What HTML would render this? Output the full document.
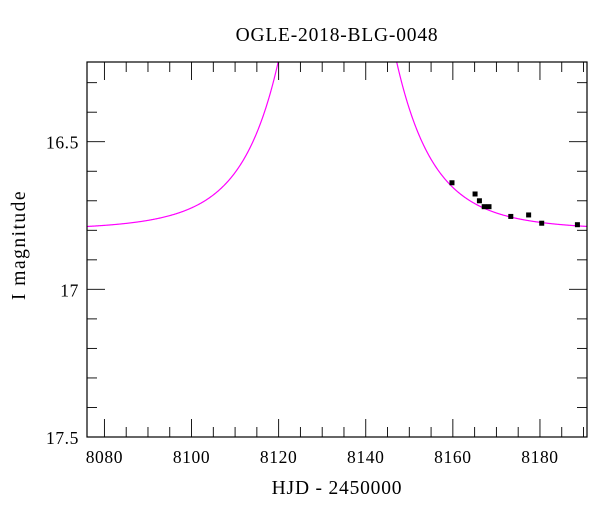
<!DOCTYPE html>
<html><head><meta charset="utf-8"><style>
body{margin:0;background:#fff}
svg text{font-family:"Liberation Serif",serif;fill:#000}
</style></head><body>
<svg id="chart" width="600" height="512"></svg>
<script>
const obsTimes=[8159.8,8165.1,8166.1,8167.2,8168.3,8173.3,8177.4,8180.4,8188.6];
const obsMags=[16.639,16.677,16.700,16.720,16.720,16.753,16.748,16.776,16.781];
const obsErrs=[0.005,0.005,0.005,0.005,0.005,0.005,0.005,0.005,0.005];
const modelParams=[8133.5,0.05,15,16.80,1.66]; // t0,u0,tE,I0,fs
const xTicks=[8080,8100,8120,8140,8160,8180];
const yTicks=[16.5,17,17.5];
const NS='http://www.w3.org/2000/svg';
const svg=document.getElementById('chart');
const L=87,R=587,T=62,B=437;
const xmin=8076.0,xmax=8190.8,ymin=16.23,ymax=17.5;
const X=t=>L+(t-xmin)/(xmax-xmin)*(R-L);
const Y=m=>T+(m-ymin)/(ymax-ymin)*(B-T);
function mk(tag,attrs,parent){const e=document.createElementNS(NS,tag);for(const k in attrs)e.setAttribute(k,attrs[k]);(parent||svg).appendChild(e);return e;}
const clip=mk('clipPath',{id:'pc'});mk('rect',{x:L,y:T,width:R-L,height:B-T},clip);
const [t0,u0,tE,I0,fs]=modelParams;
let d='';
for(let px=L;px<=R;px+=0.5){const t=xmin+(px-L)/(R-L)*(xmax-xmin);const u=Math.sqrt(u0*u0+((t-t0)/tE)**2);const A=(u*u+2)/(u*Math.sqrt(u*u+4));const m=I0-2.5*Math.log10(1+fs*(A-1));d+=(d?'L':'M')+px.toFixed(1)+','+Y(m).toFixed(2);}
const c=mk('path',{d:d,fill:'none',stroke:'#ff00ff','stroke-width':1.2,'clip-path':'url(#pc)'});

obsTimes.forEach((t,i)=>{const g=mk('g',{});

const x=X(t),y=Y(obsMags[i]);
mk('line',{x1:x,x2:x,y1:Y(obsMags[i]-obsErrs[i]),y2:Y(obsMags[i]+obsErrs[i]),stroke:'#000','stroke-width':1},g);
mk('rect',{x:x-2.5,y:y-2.5,width:5,height:5,fill:'#000'},g);});
const f=mk('rect',{x:L,y:T,width:R-L,height:B-T,fill:'none',stroke:'#000','stroke-width':1.2});

for(let t=8080;t<=xmax;t+=5){const x=X(t);const len=(t%20===0)?18:10;
mk('line',{x1:x,x2:x,y1:B,y2:B-len,stroke:'#000','stroke-width':0.9});
mk('line',{x1:x,x2:x,y1:T,y2:T+len,stroke:'#000','stroke-width':0.9});}
xTicks.forEach(t=>{const e=mk('text',{x:X(t),y:B+26,'text-anchor':'middle','font-size':17.5,'letter-spacing':0.6});e.textContent=t;
});
for(let k=3;k<=15;k++){const m=k/10+16;if(m<ymin)continue;const y=Y(m);const len=(k%5===0)?18:10;
mk('line',{x1:L,x2:L+len,y1:y,y2:y,stroke:'#000','stroke-width':0.9});
mk('line',{x1:R,x2:R-len,y1:y,y2:y,stroke:'#000','stroke-width':0.9});}
yTicks.forEach(m=>{const e=mk('text',{x:L-8,y:Y(m)+7,'text-anchor':'end','font-size':17.5,'letter-spacing':0.6});e.textContent=m;
});
let e=mk('text',{x:337,y:41,'text-anchor':'middle','font-size':19.5,'letter-spacing':0.8});e.textContent='OGLE-2018-BLG-0048';

e=mk('text',{x:337,y:494,'text-anchor':'middle','font-size':19.5,'letter-spacing':0.8});e.textContent='HJD - 2450000';

e=mk('text',{x:25,y:245,'text-anchor':'middle','font-size':19.5,'letter-spacing':1.5,transform:'rotate(-90 25 245)'});e.textContent='I magnitude';

</script>
</body></html>
